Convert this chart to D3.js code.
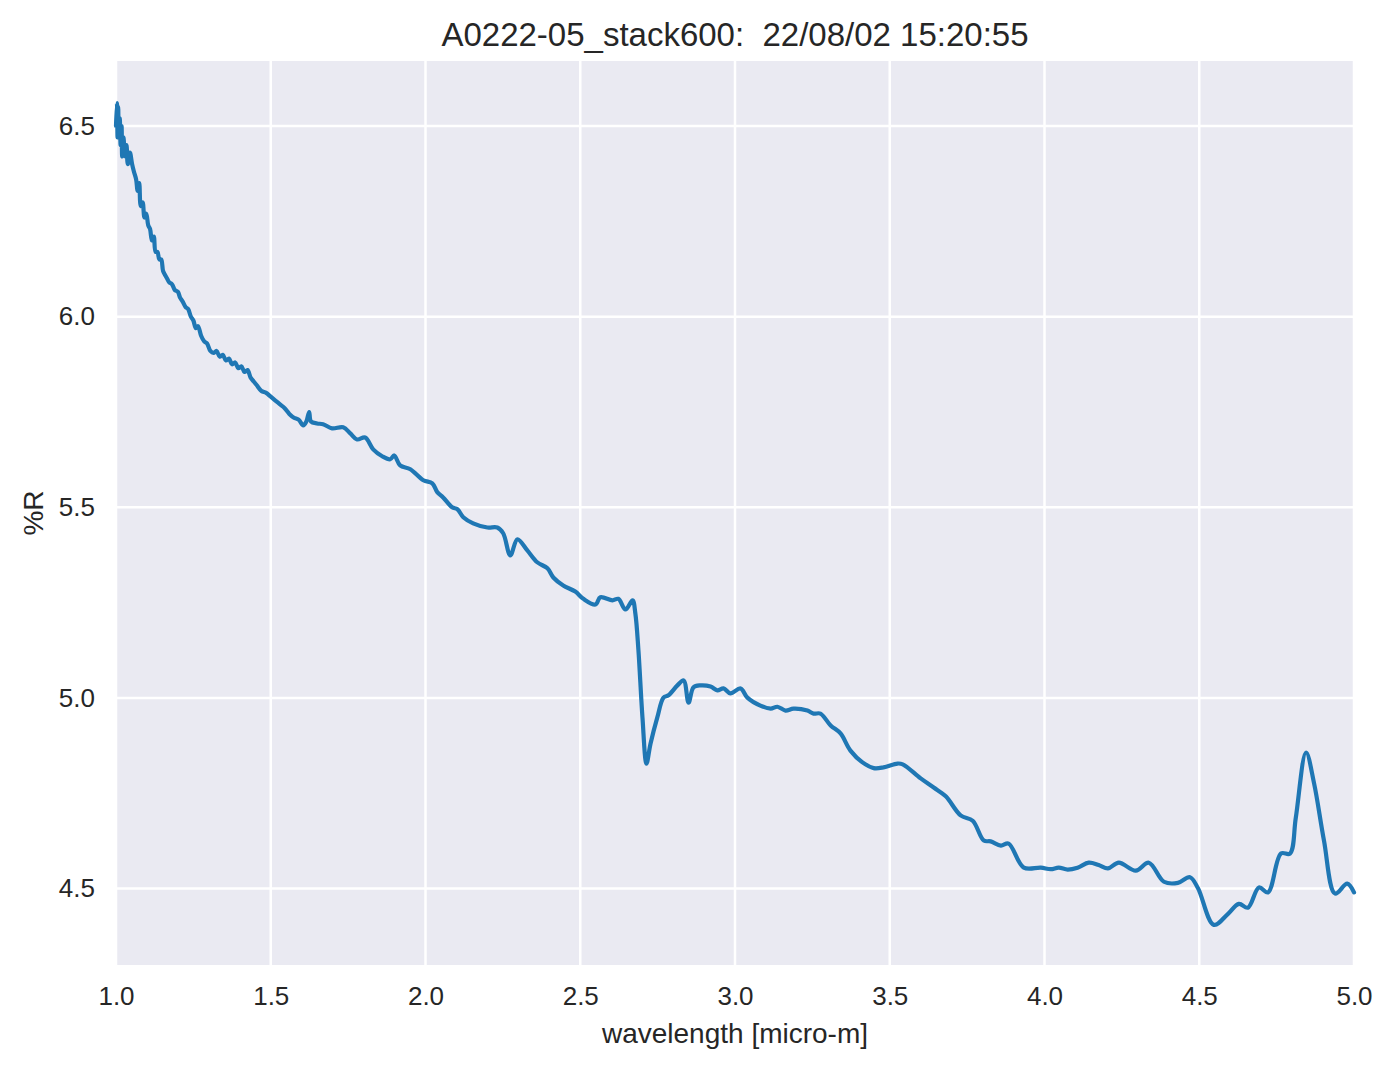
<!DOCTYPE html>
<html>
<head>
<meta charset="utf-8">
<script src="https://cdn.jsdelivr.net/npm/d3@7"></script>
<style>
    body { margin: 0; background: #ffffff; }
    text { font-family: "Liberation Sans", Arial, sans-serif; fill: #262626; }
</style>
</head>
<body>
<div id="chart"></div>
<script>
var title = 'A0222-05_stack600:  22/08/02 15:20:55';
var xLabel = 'wavelength [micro-m]';
var yLabel = '%R';

var xTicks = [1.0, 1.5, 2.0, 2.5, 3.0, 3.5, 4.0, 4.5, 5.0];
var yTicks = [4.5, 5.0, 5.5, 6.0, 6.5];

var wavelength = [
    1.000, 1.003, 1.005, 1.007, 1.009, 1.012, 1.015, 1.018, 1.020, 1.024,
    1.027, 1.030, 1.034, 1.038, 1.045, 1.052, 1.058, 1.065, 1.070, 1.075,
    1.080, 1.086, 1.092, 1.098, 1.104, 1.110, 1.116, 1.122, 1.128, 1.134,
    1.140, 1.146, 1.152, 1.158, 1.165, 1.172, 1.181, 1.190, 1.200, 1.207,
    1.215, 1.225, 1.233, 1.242, 1.250, 1.258, 1.265, 1.275, 1.285, 1.294,
    1.305, 1.315, 1.325, 1.335, 1.345, 1.355, 1.365, 1.375, 1.385, 1.395,
    1.405, 1.415, 1.425, 1.435, 1.445, 1.455, 1.470, 1.485, 1.500, 1.515,
    1.530, 1.545, 1.560, 1.575, 1.590, 1.605, 1.615, 1.624, 1.630, 1.650,
    1.669, 1.698, 1.734, 1.757, 1.779, 1.805, 1.831, 1.860, 1.886, 1.899,
    1.918, 1.951, 1.993, 2.022, 2.038, 2.057, 2.086, 2.103, 2.122, 2.154,
    2.200, 2.232, 2.251, 2.274, 2.297, 2.329, 2.361, 2.394, 2.413, 2.445,
    2.484, 2.510, 2.549, 2.565, 2.604, 2.623, 2.646, 2.669, 2.678, 2.688,
    2.701, 2.714, 2.727, 2.749, 2.769, 2.785, 2.814, 2.834, 2.850, 2.866,
    2.888, 2.921, 2.943, 2.963, 2.985, 3.018, 3.040, 3.082, 3.115, 3.137,
    3.163, 3.189, 3.234, 3.254, 3.276, 3.309, 3.341, 3.373, 3.412, 3.448,
    3.480, 3.525, 3.542, 3.600, 3.642, 3.681, 3.729, 3.768, 3.804, 3.826,
    3.859, 3.884, 3.933, 3.988, 4.020, 4.046, 4.075, 4.107, 4.143, 4.175,
    4.205, 4.240, 4.295, 4.337, 4.386, 4.431, 4.470, 4.496, 4.547, 4.593,
    4.628, 4.657, 4.693, 4.722, 4.764, 4.793, 4.812, 4.845, 4.871, 4.903,
    4.939, 4.978, 5.000
];

var reflectance = [
    6.50, 6.56, 6.47, 6.55, 6.49, 6.52, 6.45, 6.50, 6.42, 6.47,
    6.44, 6.42, 6.45, 6.40, 6.43, 6.40, 6.38, 6.36, 6.33, 6.35,
    6.29, 6.30, 6.26, 6.27, 6.24, 6.23, 6.20, 6.21, 6.17, 6.17,
    6.15, 6.15, 6.12, 6.11, 6.10, 6.09, 6.085, 6.07, 6.065, 6.05,
    6.04, 6.025, 6.02, 6.00, 5.99, 5.97, 5.975, 5.95, 5.935, 5.93,
    5.91, 5.905, 5.91, 5.895, 5.90, 5.885, 5.89, 5.875, 5.88, 5.865,
    5.87, 5.855, 5.86, 5.84, 5.83, 5.82, 5.805, 5.80, 5.79, 5.78,
    5.77, 5.76, 5.745, 5.735, 5.73, 5.715, 5.725, 5.75, 5.725, 5.72,
    5.718, 5.707, 5.71, 5.694, 5.678, 5.683, 5.652, 5.634, 5.626, 5.636,
    5.61, 5.60, 5.571, 5.563, 5.54, 5.526, 5.50, 5.495, 5.474, 5.458,
    5.447, 5.447, 5.432, 5.374, 5.416, 5.387, 5.356, 5.34, 5.316, 5.295,
    5.279, 5.26, 5.245, 5.264, 5.256, 5.26, 5.232, 5.256, 5.222, 5.125,
    4.949, 4.828, 4.88, 4.949, 5.001, 5.007, 5.033, 5.046, 4.988, 5.028,
    5.033, 5.03, 5.02, 5.025, 5.012, 5.025, 5.001, 4.98, 4.972, 4.977,
    4.967, 4.972, 4.967, 4.959, 4.959, 4.928, 4.907, 4.862, 4.831, 4.816,
    4.818, 4.828, 4.826, 4.789, 4.765, 4.742, 4.692, 4.678, 4.626, 4.624,
    4.613, 4.618, 4.555, 4.555, 4.551, 4.555, 4.55, 4.555, 4.568, 4.562,
    4.553, 4.568, 4.547, 4.568, 4.518, 4.515, 4.53, 4.501, 4.405, 4.434,
    4.46, 4.45, 4.503, 4.49, 4.592, 4.592, 4.686, 4.857, 4.776, 4.626,
    4.487, 4.513, 4.49
];

window.onload = function() {
    drawChart();
}

function drawChart() {
    var width = 1394;
    var height = 1069;
    var margin = { top: 61, right: 40, bottom: 104, left: 116 };
    var plotW = width - margin.left - margin.right;
    var plotH = height - margin.top - margin.bottom;

    var points = wavelength.map(function(w, i) {
        return { x: w, y: reflectance[i] };
    });

    var x = d3.scaleLinear().domain([1.0, 5.0]).range([0, plotW]);
    var y = d3.scaleLinear().domain([4.2997, 6.6705]).range([plotH, 0]);

    var svg = d3.select('#chart')
        .append('svg')
        .attr('width', width)
        .attr('height', height);

    var g = svg.append('g')
        .attr('transform', 'translate(' + margin.left + ',' + margin.top + ')');

    g.append('rect')
        .attr('width', plotW)
        .attr('height', plotH)
        .attr('fill', '#eaeaf2');

    // grid
    g.selectAll('.vgrid')
        .data(xTicks)
        .enter()
        .append('line')
        .attr('x1', function(d) { return x(d); })
        .attr('x2', function(d) { return x(d); })
        .attr('y1', 0)
        .attr('y2', plotH)
        .attr('stroke', '#ffffff')
        .attr('stroke-width', 2.5);

    g.selectAll('.hgrid')
        .data(yTicks)
        .enter()
        .append('line')
        .attr('x1', 0)
        .attr('x2', plotW)
        .attr('y1', function(d) { return y(d); })
        .attr('y2', function(d) { return y(d); })
        .attr('stroke', '#ffffff')
        .attr('stroke-width', 2.5);

    // axes, no domain lines or tick marks (seaborn darkgrid look)
    var xAxis = g.append('g')
        .attr('transform', 'translate(0,' + plotH + ')')
        .call(d3.axisBottom(x).tickValues(xTicks).tickFormat(d3.format('.1f')).tickSize(0).tickPadding(22));
    var yAxis = g.append('g')
        .call(d3.axisLeft(y).tickValues(yTicks).tickFormat(d3.format('.1f')).tickSize(0).tickPadding(21));

    [xAxis, yAxis].forEach(function(a) {
        a.select('.domain').remove();
        a.selectAll('text')
            .attr('fill', '#262626')
            .style('font-size', '26px')
            .style('font-family', '"Liberation Sans", Arial, sans-serif');
    });

    var line = d3.line()
        .x(function(d) { return x(d.x); })
        .y(function(d) { return y(d.y); })
        .curve(d3.curveCatmullRom.alpha(0.5));

    g.append('path')
        .datum(points)
        .attr('d', line)
        .attr('fill', 'none')
        .attr('stroke', '#1f77b4')
        .attr('stroke-width', 4.2)
        .attr('stroke-linejoin', 'round')
        .attr('stroke-linecap', 'round');

    svg.append('text')
        .attr('x', margin.left + plotW / 2)
        .attr('y', 46)
        .attr('text-anchor', 'middle')
        .style('font-size', '33px')
        .style('white-space', 'pre')
        .text(title);

    svg.append('text')
        .attr('x', margin.left + plotW / 2)
        .attr('y', 1043)
        .attr('text-anchor', 'middle')
        .style('font-size', '28px')
        .text(xLabel);

    svg.append('text')
        .attr('transform', 'translate(43,' + (margin.top + plotH / 2) + ') rotate(-90)')
        .attr('text-anchor', 'middle')
        .style('font-size', '28px')
        .text(yLabel);

    console.log('done');
}
</script>
</body>
</html>
